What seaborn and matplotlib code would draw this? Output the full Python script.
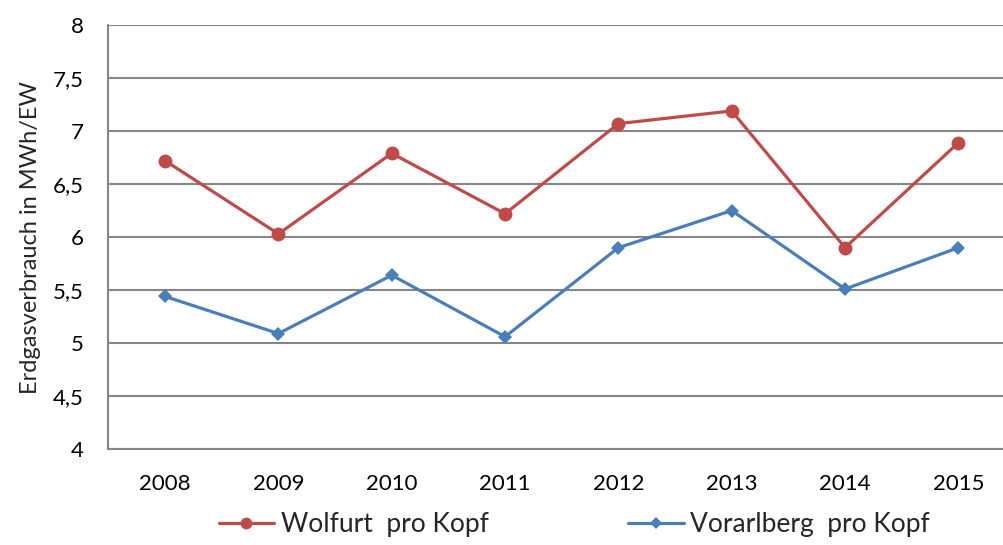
import matplotlib
matplotlib.use('Agg')
import matplotlib.pyplot as plt
from matplotlib.ticker import FuncFormatter, MultipleLocator
import seaborn as sns
import pandas as pd

years = ['2008', '2009', '2010', '2011', '2012', '2013', '2014', '2015']
wolfurt = [6.72, 6.03, 6.79, 6.22, 7.07, 7.19, 5.90, 6.89]
vorarlberg = [5.44, 5.09, 5.64, 5.06, 5.90, 6.25, 5.51, 5.90]
serien = ['Wolfurt  pro Kopf', 'Vorarlberg  pro Kopf']

df = pd.DataFrame({
    'Jahr': years * 2,
    'Wert': wolfurt + vorarlberg,
    'Serie': [serien[0]] * len(years) + [serien[1]] * len(years),
})

sns.set_style('white')
plt.rcParams['font.family'] = ['Lato', 'DejaVu Sans']

fig = plt.figure(figsize=(10.04, 5.45), dpi=100)
ax = fig.add_axes([0.108, 0.176, 0.903, 0.778])

sns.lineplot(data=df, x='Jahr', y='Wert', hue='Serie', style='Serie',
             palette={serien[0]: '#BE4B48', serien[1]: '#4A7EBB'},
             markers={serien[0]: 'o', serien[1]: 'D'}, dashes=False,
             linewidth=2.3, markersize=9, markeredgewidth=0, ax=ax)

# Kreis etwas groesser, Raute etwas kleiner
ax.lines[0].set_markersize(10)
ax.lines[1].set_markersize(7.5)

ax.set_ylim(4, 8)
ax.set_xlim(-0.5, 7.5)
ax.yaxis.set_major_locator(MultipleLocator(0.5))
ax.yaxis.set_major_formatter(FuncFormatter(lambda v, p: f'{v:g}'.replace('.', ',')))
ax.grid(True, axis='y', color='#868686', linewidth=1.5)
ax.set_axisbelow(True)

for s in ['top', 'right']:
    ax.spines[s].set_visible(False)
for s in ['left', 'bottom']:
    ax.spines[s].set_color('#868686')
    ax.spines[s].set_linewidth(1.5)

ax.tick_params(axis='y', length=0, pad=18, labelsize=16, labelcolor='black')
ax.tick_params(axis='x', length=0, pad=18, labelsize=16, labelcolor='black')
ax.set_xlabel('')
ax.set_ylabel('Erdgasverbrauch in MWh/EW', fontsize=17, labelpad=8)

leg = ax.legend(loc='center', bbox_to_anchor=(0.572, 0.037), bbox_transform=fig.transFigure,
                ncol=2, frameon=False, fontsize=19, columnspacing=5.3,
                handlelength=2.1, handletextpad=0.25)
leg.legend_handles[0].set_markersize(8.5)
leg.legend_handles[1].set_markersize(6.5)

fig.savefig('out.png', dpi=100)
